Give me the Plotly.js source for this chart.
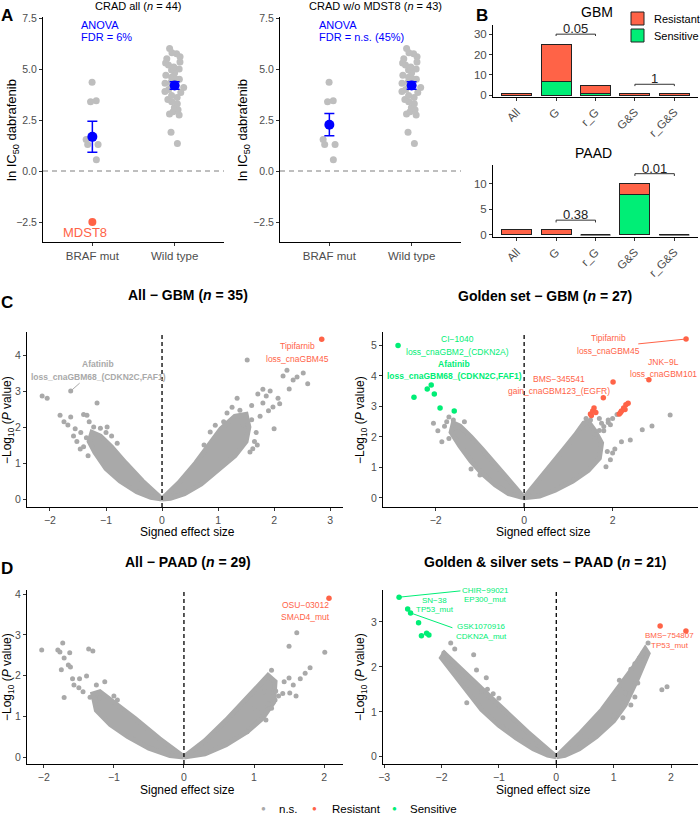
<!DOCTYPE html>
<html><head><meta charset="utf-8">
<script src="https://cdn.plot.ly/plotly-3.0.1.min.js"></script>
<style>body{margin:0;background:#fff}</style></head>
<body><div id="chart" style="width:700px;height:817px"></div>
<script>
const FONT='Arial, "Liberation Sans", sans-serif';
const RED='#FF6347', GREEN='#00EE76', GRAY='#A9A9A9', LGRAY='#BEBEBE', BLUE='#0000FF';

// ---------- Panel A data ----------
const groupsA=['BRAF mut','Wild type'];
const brafMut=[4.35,3.45,3.40,1.55,1.30,1.30,0.55];
const mdst8=-2.50;
const wildType=[6.0,5.8,5.75,5.6,5.5,5.35,5.3,5.2,5.1,5.0,4.95,4.8,4.7,4.6,4.5,4.5,4.4,4.35,4.3,4.2,4.1,4.0,3.9,3.85,3.7,3.6,3.5,3.4,3.3,3.1,3.0,2.9,2.8,2.75,1.9,1.35];

// ---------- Panel B data ----------
const bCats=['All','G','r_G','G&S','r_G&S'];
const gbmSensitive=[0,7,1,0,0];
const gbmResistant=[1,18,4,1,1];
const paadSensitive=[0,0,0,8,0];
const paadResistant=[1,1,0,2,0];
const gbmPairFrom=[1,3], gbmPairTo=[2,4], gbmPairY=[30,5.4], gbmPairP=['0.05','1'];
const paadPairFrom=[1,3], paadPairTo=[2,4], paadPairY=[2.9,12.0], paadPairP=['0.38','0.01'];

// ---------- Panel C data: All - GBM ----------
const clCloudLX=[0,-0.35,-0.65,-0.9,-1.1,-1.25,-1.3,-1.2,-1.0,-0.75,-0.45,-0.2,0];
const clCloudLY=[0,0.5,1.0,1.45,1.75,1.85,1.6,1.3,0.85,0.5,0.2,0.05,0];
const clCloudRX=[0,0.3,0.6,0.85,1.05,1.3,1.5,1.55,1.5,1.3,1.0,0.7,0.4,0.15,0];
const clCloudRY=[0,0.45,1.0,1.55,1.95,2.3,2.35,2.0,1.6,1.2,0.8,0.42,0.15,0.02,0];
const clGrayX=[-2.14,-2.05,-1.63,-1.82,-1.63,-1.68,-1.34,-1.16,-1.10,-0.98,-1.46,-1.40,-1.52,-1.58,-1.30,-1.22,-1.00,-1.45,-1.35,-0.90,-1.75,-1.55,-0.80,-1.40,-1.32,
  0.86,1.16,1.39,1.80,1.98,1.57,1.52,2.23,2.16,2.34,2.41,2.52,2.27,1.71,1.80,1.93,1.86,2.07,1.34,1.90,1.75,1.60,1.45,1.25,1.65,1.70,2.00,1.10,0.95,2.60,1.60,2.10,0.75,1.62,1.68];
const clGrayY=[2.86,2.80,3.00,2.33,2.28,2.06,2.33,2.67,1.97,2.00,1.39,1.45,1.60,1.75,2.15,2.00,1.85,1.85,1.70,1.75,2.15,1.95,1.55,2.35,1.20,
  1.86,2.39,2.47,2.67,2.56,1.31,3.86,3.58,3.42,3.31,3.39,3.50,3.06,2.92,3.05,3.00,2.86,2.80,2.80,2.45,2.30,2.20,2.05,2.55,1.60,1.50,1.95,2.15,2.05,3.20,2.60,2.65,1.50,1.40,1.85];
const clRedX=[2.85], clRedY=[4.44];

// ---------- Panel C data: Golden set - GBM ----------
const crCloudLX=[0,-0.4,-0.7,-0.95,-1.2,-1.45,-1.6,-1.65,-1.45,-1.2,-0.95,-0.65,-0.35,0];
const crCloudLY=[0,0.7,1.2,1.6,2.0,2.35,2.45,2.15,1.7,1.2,0.8,0.42,0.14,0];
const crCloudRX=[0,0.35,0.65,0.9,1.15,1.35,1.45,1.6,1.75,1.7,1.45,1.1,0.7,0.35,0];
const crCloudRY=[0,0.6,1.15,1.6,2.05,2.45,2.5,2.2,1.8,1.3,0.9,0.55,0.25,0.06,0];
const crGrayX=[3.30,2.67,2.89,2.20,2.40,1.88,2.00,1.85,-2.05,-1.86,-1.95,-1.75,-1.70,-1.80,-1.60,-1.55,1.70,1.75,1.90,2.00,1.80,1.60,1.95,1.50,1.40,1.60,1.70,1.80,1.90,2.10,-1.2,-1.0,-1.7,-1.35,1.95,2.05];
const crGrayY=[2.72,2.23,2.36,1.84,1.90,1.52,1.47,1.02,2.45,1.84,2.20,2.50,2.65,2.35,2.55,2.30,2.60,2.45,2.55,2.60,2.20,2.00,2.40,2.55,2.60,2.08,2.21,2.34,2.47,2.73,0.95,0.75,1.95,2.5,1.25,1.6];
const crRedX=[3.66,2.82,2.01,1.79,1.50,1.55,1.58,1.62,1.52,2.15,2.20,2.25,2.30,2.35,2.18,2.28];
const crRedY=[5.21,3.87,3.80,3.28,2.75,2.85,2.95,2.80,2.70,2.75,2.85,2.95,3.05,3.10,2.80,2.90];
const crGreenX=[-2.85,-2.19,-2.10,-2.03,-2.49,-1.90,-1.58];
const crGreenY=[5.00,3.57,3.70,3.41,3.30,2.95,2.85];

// ---------- Panel D data: All - PAAD ----------
const dlCloudLX=[0,-0.35,-0.7,-1.0,-1.2,-1.3,-1.25,-1.05,-0.8,-0.5,-0.2,0];
const dlCloudLY=[0,0.45,0.95,1.35,1.6,1.55,1.15,0.8,0.5,0.22,0.04,0];
const dlCloudRX=[0,0.3,0.6,0.85,1.05,1.2,1.3,1.28,1.12,0.9,0.6,0.3,0];
const dlCloudRY=[0,0.4,0.9,1.35,1.75,2.0,1.85,1.35,0.95,0.62,0.3,0.08,0];
const dlGrayX=[1.61,1.50,2.01,1.80,1.25,1.43,1.50,1.56,1.66,1.73,1.31,1.41,1.51,1.30,1.17,0.90,1.35,1.20,1.10,1.25,1.60,1.00,1.15,
  -2.03,-1.80,-1.77,-1.73,-1.63,-1.71,-1.65,-1.62,-1.75,-1.59,-1.57,-1.71,-1.49,-1.39,-1.36,-1.30,-1.13,-1.25,-1.44,-1.34,-1.50,-1.20,-1.00,-0.95];
const dlGrayY=[3.05,2.72,2.57,2.19,2.13,1.85,1.94,1.77,1.92,2.06,1.62,1.56,1.57,1.40,0.91,0.62,1.50,1.30,1.10,1.20,1.50,1.20,1.60,
  2.63,2.63,2.58,2.80,2.56,2.43,2.26,2.21,2.14,1.92,1.77,1.46,1.92,1.99,2.65,2.60,1.85,1.77,1.60,1.47,1.70,1.45,1.50,1.40];
const dlRedX=[2.07], dlRedY=[3.90];

// ---------- Panel D data: Golden & silver sets - PAAD ----------
const drCloudLX=[0,-0.5,-1.0,-1.5,-1.95,-2.0,-1.6,-1.3,-1.0,-0.7,-0.4,-0.15,0];
const drCloudLY=[0,0.55,1.15,1.75,2.3,2.2,1.55,1.05,0.7,0.42,0.18,0.04,0];
const drCloudRX=[0,0.4,0.8,1.1,1.35,1.55,1.6,1.4,1.2,1.0,0.7,0.4,0.15,0];
const drCloudRY=[0,0.5,1.05,1.55,2.0,2.4,2.3,1.7,1.15,0.8,0.45,0.18,0.03,0];
const drGrayX=[-1.84,-1.77,-1.96,-1.89,-1.44,-1.39,-1.22,-1.56,-1.30,-1.20,-1.10,-1.00,-1.35,-0.94,
  1.84,1.93,1.37,1.42,1.23,1.37,1.20,1.60,1.51,1.45,1.30,1.10,1.05,1.15,1.30,1.00,1.16];
const drGrayY=[2.53,2.40,2.31,2.18,2.27,1.93,1.76,1.20,1.45,1.50,1.40,1.30,1.55,0.67,
  1.49,1.56,2.07,1.64,1.76,1.33,1.42,2.53,2.31,2.20,1.95,1.70,1.40,1.20,1.15,0.90,0.87];
const drGreenX=[-2.74,-2.59,-2.54,-2.40,-2.35,-2.26,-2.22];
const drGreenY=[3.55,3.29,3.20,2.98,2.69,2.75,2.71];
const drRedX=[1.81,2.26], drRedY=[2.91,2.80];

// ---------- helpers ----------
const mean=a=>a.reduce((s,v)=>s+v,0)/a.length;
const se=a=>{const m=mean(a);return Math.sqrt(a.reduce((s,v)=>s+(v-m)*(v-m),0)/(a.length-1))/Math.sqrt(a.length);};
const W=700,H=817;
const dx=(a,b)=>[a/W,b/W];
const dy=(t,b)=>[1-b/H,1-t/H];
function ax(domain,range,anchor,extra){
  return Object.assign({domain,range,anchor,type:'linear',showline:true,linecolor:'#000',linewidth:1,ticks:'outside',ticklen:3,tickwidth:1,tickcolor:'#333',showgrid:false,zeroline:false,tickfont:{family:FONT,size:10.5,color:'#4D4D4D'},fixedrange:true},extra||{});
}
function ann(x,y,text,size,opt){
  return Object.assign({x:x/W,y:1-y/H,xref:'paper',yref:'paper',xanchor:'center',yanchor:'middle',text,showarrow:false,font:{family:FONT,size:size,color:'#000'}},opt||{});
}
function dlabel(n,x,y,lines,color,size,sp,bold){
  return lines.map((t,i)=>({xref:'x'+n,yref:'y'+n,x,y,xanchor:'center',yanchor:'middle',yshift:-i*sp,text:bold?'<b>'+t+'</b>':t,showarrow:false,font:{family:FONT,size,color}}));
}

const traces=[], shapes=[], annotations=[];

// ---------- Panel A traces ----------
['','2'].forEach((n,k)=>{
  const xa='x'+n, ya='y'+n;
  traces.push({type:'box',y:brafMut,x0:0,xaxis:xa,yaxis:ya,boxpoints:'all',jitter:0.55,pointpos:0,width:0.34,fillcolor:'rgba(0,0,0,0)',line:{width:0,color:'rgba(0,0,0,0)'},marker:{color:LGRAY,size:7},hoverinfo:'skip'});
  traces.push({type:'box',y:wildType,x0:1,xaxis:xa,yaxis:ya,boxpoints:'all',jitter:0.8,pointpos:0,width:0.34,fillcolor:'rgba(0,0,0,0)',line:{width:0,color:'rgba(0,0,0,0)'},marker:{color:LGRAY,size:7},hoverinfo:'skip'});
  const bm = k===0 ? brafMut.concat([mdst8]) : brafMut;
  traces.push({type:'scatter',mode:'markers',x:[0,1],y:[mean(bm),mean(wildType)],xaxis:xa,yaxis:ya,
    error_y:{type:'data',array:[se(bm),se(wildType)],color:BLUE,thickness:1.5,width:5},marker:{color:BLUE,size:10},hoverinfo:'skip'});
  shapes.push({type:'line',xref:xa+' domain',yref:ya,x0:0,x1:1,y0:0,y1:0,line:{color:'#7F7F7F',width:1,dash:'5px,4px'},layer:'below'});
});
traces.push({type:'scatter',mode:'markers',x:[0],y:[mdst8],xaxis:'x',yaxis:'y',marker:{color:RED,size:8},hoverinfo:'skip'});
annotations.push({xref:'x',yref:'y',x:-0.09,y:-2.99,xanchor:'center',yanchor:'middle',text:'MDST8',showarrow:false,font:{family:FONT,size:13,color:RED}});

// ---------- Panel B traces ----------
function barPanel(n,sens,res,from,to,py,plab,tick){
  const xs=bCats.map((c,i)=>i);
  traces.push({type:'bar',x:xs,y:sens,xaxis:'x'+n,yaxis:'y'+n,width:0.76,marker:{color:GREEN,line:{color:'#222',width:1}},hoverinfo:'skip'});
  traces.push({type:'bar',x:xs,y:res,xaxis:'x'+n,yaxis:'y'+n,width:0.76,marker:{color:RED,line:{color:'#222',width:1}},hoverinfo:'skip'});
  const zx=[],zy=[];
  xs.forEach(i=>{ if(sens[i]+res[i]===0){zx.push(i);zy.push(0);} });
  if(zx.length) traces.push({type:'scatter',mode:'markers',x:zx,y:zy,xaxis:'x'+n,yaxis:'y'+n,marker:{symbol:'line-ew',size:21.5,line:{color:'#222',width:1.2}},hoverinfo:'skip'});
  from.forEach((a,i)=>{
    const b=to[i], y=py[i];
    traces.push({type:'scatter',mode:'lines',x:[a,a,b,b],y:[y-tick,y,y,y-tick],xaxis:'x'+n,yaxis:'y'+n,line:{color:'#333',width:1},hoverinfo:'skip'});
    annotations.push({xref:'x'+n,yref:'y'+n,x:(a+b)/2,y:y,xanchor:'center',yanchor:'bottom',yshift:-4,text:plab[i],showarrow:false,font:{family:FONT,size:13,color:'#222'}});
  });
}
barPanel(3,gbmSensitive,gbmResistant,gbmPairFrom,gbmPairTo,gbmPairY,gbmPairP,0.9);
barPanel(4,paadSensitive,paadResistant,paadPairFrom,paadPairTo,paadPairY,paadPairP,0.45);

// ---------- Volcano traces ----------
function volcano(n,cLX,cLY,cRX,cRY,gx,gy,rx,ry,grx,gry){
  const xa='x'+n, ya='y'+n;
  [[cLX,cLY],[cRX,cRY]].forEach(([x,y])=>traces.push({type:'scatter',mode:'lines',x,y,xaxis:xa,yaxis:ya,fill:'toself',fillcolor:GRAY,line:{color:GRAY,width:5},hoverinfo:'skip'}));
  traces.push({type:'scatter',mode:'markers',x:gx,y:gy,xaxis:xa,yaxis:ya,marker:{color:GRAY,size:5},hoverinfo:'skip'});
  if(rx) traces.push({type:'scatter',mode:'markers',x:rx,y:ry,xaxis:xa,yaxis:ya,marker:{color:RED,size:5.5},hoverinfo:'skip'});
  if(grx) traces.push({type:'scatter',mode:'markers',x:grx,y:gry,xaxis:xa,yaxis:ya,marker:{color:GREEN,size:5.5},hoverinfo:'skip'});
  shapes.push({type:'line',xref:xa,yref:ya+' domain',x0:0,x1:0,y0:0,y1:1,line:{color:'#000',width:1.3,dash:'4px,3px'}});
}
volcano(5,clCloudLX,clCloudLY,clCloudRX,clCloudRY,clGrayX,clGrayY,clRedX,clRedY,null,null);
volcano(6,crCloudLX,crCloudLY,crCloudRX,crCloudRY,crGrayX,crGrayY,crRedX,crRedY,crGreenX,crGreenY);
volcano(7,dlCloudLX,dlCloudLY,dlCloudRX,dlCloudRY,dlGrayX,dlGrayY,dlRedX,dlRedY,null,null);
volcano(8,drCloudLX,drCloudLY,drCloudRX,drCloudRY,drGrayX,drGrayY,drRedX,drRedY,drGreenX,drGreenY);

// label segments
function seg(n,x0,y0,x1,y1,color){shapes.push({type:'line',xref:'x'+n,yref:'y'+n,x0,y0,x1,y1,line:{color,width:1}});}
seg(5,-1.63,3.0,-1.47,3.22,GRAY);
seg(6,2.58,5.05,3.66,5.21,RED);
seg(8,-2.74,3.55,-1.67,3.69,GREEN);
seg(8,-2.54,3.2,-1.81,2.87,GREEN);

// volcano text labels
annotations.push(...dlabel(5,-1.14,3.75,['Afatinib','loss_cnaGBM68_(CDKN2C,FAF1)'],GRAY,8.5,13,true));
annotations.push(...dlabel(5,2.41,4.25,['Tipifarnib','loss_cnaGBM45'],RED,8.5,13,false));
annotations.push(...dlabel(6,-1.5,5.2,['CI−1040','loss_cnaGBM2_(CDKN2A)'],GREEN,8.5,13,false));
annotations.push(...dlabel(6,-1.58,4.4,['Afatinib','loss_cnaGBM68_(CDKN2C,FAF1)'],GREEN,8.5,12,true));
annotations.push(...dlabel(6,1.9,5.25,['Tipifarnib','loss_cnaGBM45'],RED,8.5,13,false));
annotations.push(...dlabel(6,3.14,4.45,['JNK−9L','loss_cnaGBM101'],RED,8.5,11.5,false));
annotations.push(...dlabel(6,0.79,3.9,['BMS−345541','gain_cnaGBM123_(EGFR)'],RED,8.5,12,false));
annotations.push(...dlabel(7,1.73,3.73,['OSU−03012','SMAD4_mut'],RED,8.5,12.3,false));
annotations.push(...dlabel(8,-1.24,3.71,['CHIR−99021','EP300_mut'],GREEN,8,9.5,false));
annotations.push(...dlabel(8,-2.12,3.48,['SN−38','TP53_mut'],GREEN,8,9.5,false));
annotations.push(...dlabel(8,-1.3,2.89,['GSK1070916','CDKN2A_mut'],GREEN,8,9.5,false));
annotations.push(...dlabel(8,1.98,2.69,['BMS−754807','TP53_mut'],RED,8,9.5,false));

// ---------- paper annotations ----------
annotations.push(ann(7,15,'<b>A</b>',17), ann(482,15,'<b>B</b>',17), ann(7,302,'<b>C</b>',17), ann(7,568,'<b>D</b>',17));
annotations.push(ann(138,6,'CRAD all (<i>n</i> = 44)',11), ann(375,6,'CRAD w/o MDST8 (<i>n</i> = 43)',11));
annotations.push(ann(79,25,'ANOVA',11,{xanchor:'left',font:{family:FONT,size:11,color:BLUE}}));
annotations.push(ann(79,37.5,'FDR = 6%',11,{xanchor:'left',font:{family:FONT,size:11,color:BLUE}}));
annotations.push(ann(317,25,'ANOVA',11,{xanchor:'left',font:{family:FONT,size:11,color:BLUE}}));
annotations.push(ann(317,37.5,'FDR = n.s. (45%)',11,{xanchor:'left',font:{family:FONT,size:11,color:BLUE}}));
annotations.push(ann(12,130,'ln IC<sub>50</sub> dabrafenib',13,{textangle:-90}));
annotations.push(ann(243,130,'ln IC<sub>50</sub> dabrafenib',13,{textangle:-90}));
annotations.push(ann(597,12,'GBM',14), ann(593,153,'PAAD',14));
annotations.push(ann(652,19,'Resistant',11,{xanchor:'left'}), ann(652,36,'Sensitive',11,{xanchor:'left'}));
shapes.push({type:'rect',xref:'paper',yref:'paper',x0:631/W,x1:644/W,y0:1-25/H,y1:1-12/H,fillcolor:RED,line:{color:'#222',width:1}});
shapes.push({type:'rect',xref:'paper',yref:'paper',x0:631/W,x1:644/W,y0:1-42/H,y1:1-29/H,fillcolor:GREEN,line:{color:'#222',width:1}});
annotations.push(ann(188,295,'<b>All − GBM (<i>n</i> = 35)</b>',14), ann(545,296,'<b>Golden set − GBM (<i>n</i> = 27)</b>',14));
annotations.push(ann(188,562,'<b>All − PAAD (<i>n</i> = 29)</b>',14), ann(545,562,'<b>Golden &amp; silver sets − PAAD (<i>n</i> = 21)</b>',14));
const ylab='−Log<sub>10</sub> (<i>P</i> value)';
annotations.push(ann(8,420,ylab,12,{textangle:-90}), ann(361,420,ylab,12,{textangle:-90}));
annotations.push(ann(8,677,ylab,12,{textangle:-90}), ann(361,677,ylab,12,{textangle:-90}));
annotations.push(ann(187,532,'Signed effect size',12), ann(543,532,'Signed effect size',12));
annotations.push(ann(187,790,'Signed effect size',12), ann(543,790,'Signed effect size',12));
// bottom legend
annotations.push(ann(263,808,'●',8,{font:{family:FONT,size:8,color:GRAY}}), ann(277,809,'n.s.',11.5,{xanchor:'left'}));
annotations.push(ann(314,808,'●',8,{font:{family:FONT,size:8,color:RED}}), ann(330,809,'Resistant',11.5,{xanchor:'left'}));
annotations.push(ann(394,808,'●',8,{font:{family:FONT,size:8,color:GREEN}}), ann(408,809,'Sensitive',11.5,{xanchor:'left'}));

const tf={family:FONT,size:11.5,color:'#4D4D4D'};
const layout={
  width:W,height:H,margin:{l:0,r:0,t:0,b:0},paper_bgcolor:'#fff',plot_bgcolor:'rgba(0,0,0,0)',
  showlegend:false,barmode:'stack',boxmode:'overlay',font:{family:FONT},
  xaxis: ax(dx(43,224),[-0.6,1.6],'y',{tickvals:[0,1],ticktext:groupsA,tickfont:tf}),
  yaxis: ax(dy(17,242),[-3.48,7.55],'x',{tickvals:[-2.5,0,2.5,5,7.5],tickformat:'.1f'}),
  xaxis2: ax(dx(280,461),[-0.6,1.6],'y2',{tickvals:[0,1],ticktext:groupsA,tickfont:tf}),
  yaxis2: ax(dy(17,242),[-3.48,7.55],'x2',{tickvals:[-2.5,0,2.5,5,7.5],tickformat:'.1f'}),
  xaxis3: ax(dx(493,698),[-0.6,4.6],'y3',{tickvals:[0,1,2,3,4],ticktext:bCats,tickangle:-45,tickfont:tf}),
  yaxis3: ax(dy(25,97),[-0.85,34.5],'x3',{tickvals:[0,10,20,30],tickfont:tf}),
  xaxis4: ax(dx(493,698),[-0.6,4.6],'y4',{tickvals:[0,1,2,3,4],ticktext:bCats,tickangle:-45,tickfont:tf}),
  yaxis4: ax(dy(165,237),[-0.4,13.7],'x4',{tickvals:[0,5,10],tickfont:tf}),
  xaxis5: ax(dx(27,343),[-2.41,3.23],'y5',{dtick:1}),
  yaxis5: ax(dy(332,507),[-0.22,4.64],'x5',{dtick:1}),
  xaxis6: ax(dx(383,698),[-3.19,3.93],'y6',{dtick:2}),
  yaxis6: ax(dy(332,507),[-0.3,5.44],'x6',{dtick:1}),
  xaxis7: ax(dx(27,343),[-2.24,2.27],'y7',{dtick:1}),
  yaxis7: ax(dy(590,764),[-0.17,4.1],'x7',{dtick:1}),
  xaxis8: ax(dx(383,698),[-3.02,2.47],'y8',{dtick:1}),
  yaxis8: ax(dy(590,764),[-0.16,3.71],'x8',{dtick:1}),
  shapes, annotations
};
Plotly.newPlot('chart',traces,layout,{staticPlot:true});
</script></body></html>
